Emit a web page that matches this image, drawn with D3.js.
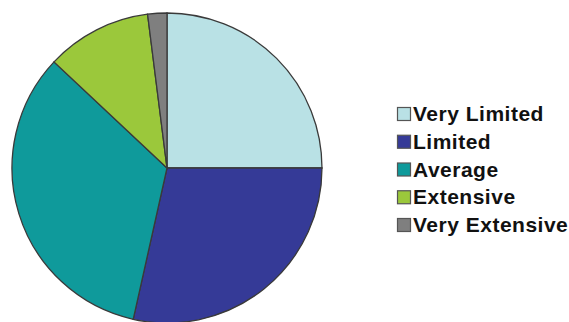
<!DOCTYPE html>
<html>
<head>
<meta charset="utf-8">
<script src="https://cdn.jsdelivr.net/npm/d3@7"></script>
<style>
  body { margin: 0; background: #fff; }
  text { font-family: "Liberation Sans", Arial, sans-serif; font-weight: bold; }
</style>
</head>
<body>
<svg id="chart" width="569" height="322"></svg>
<script>
// data (percent of whole)
const categories = ['Very Limited', 'Limited', 'Average', 'Extensive', 'Very Extensive'];
const values = [25, 28.5, 33.5, 11, 2];
const colors = ['#b9e1e5', '#353a97', '#0f9a9b', '#9bc83b', '#7f7f7f'];

const svg = d3.select('#chart'),
	cx = 167, cy = 168, r = 155;

const color = d3.scaleOrdinal().domain(categories).range(colors);

const pie = d3.pie().sort(null).value(d => d.v);
const arc = d3.arc().innerRadius(0).outerRadius(r);

const rows = categories.map((c, i) => ({c: c, v: values[i]}));

//pie slices, clockwise from 12 o'clock
svg.append('g')
	.attr('transform', `translate(${cx},${cy})`)
	.selectAll('path')
	.data(pie(rows))
	.enter()
	.append('path')
	.attr('d', arc)
	.attr('fill', d => color(d.data.c))
	.attr('stroke', '#3a3a3a')
	.attr('stroke-width', 1.3);

//legend
const y = d3.scalePoint().domain(categories).range([114, 225]);

const leg = svg.append('g').selectAll('g')
	.data(categories)
	.enter()
	.append('g')
	.attr('transform', d => `translate(397,${y(d)})`);

leg.append('rect')
	.attr('x', 0.5).attr('y', -6.5)
	.attr('width', 13).attr('height', 13)
	.attr('fill', d => color(d))
	.attr('stroke', '#555')
	.attr('stroke-width', 1.2);

leg.append('text')
	.text(d => d)
	.attr('x', 16)
	.attr('y', 7)
	.attr('font-size', 21)
	.attr('letter-spacing', 0.5)
	.attr('fill', '#111');
</script>
</body>
</html>
